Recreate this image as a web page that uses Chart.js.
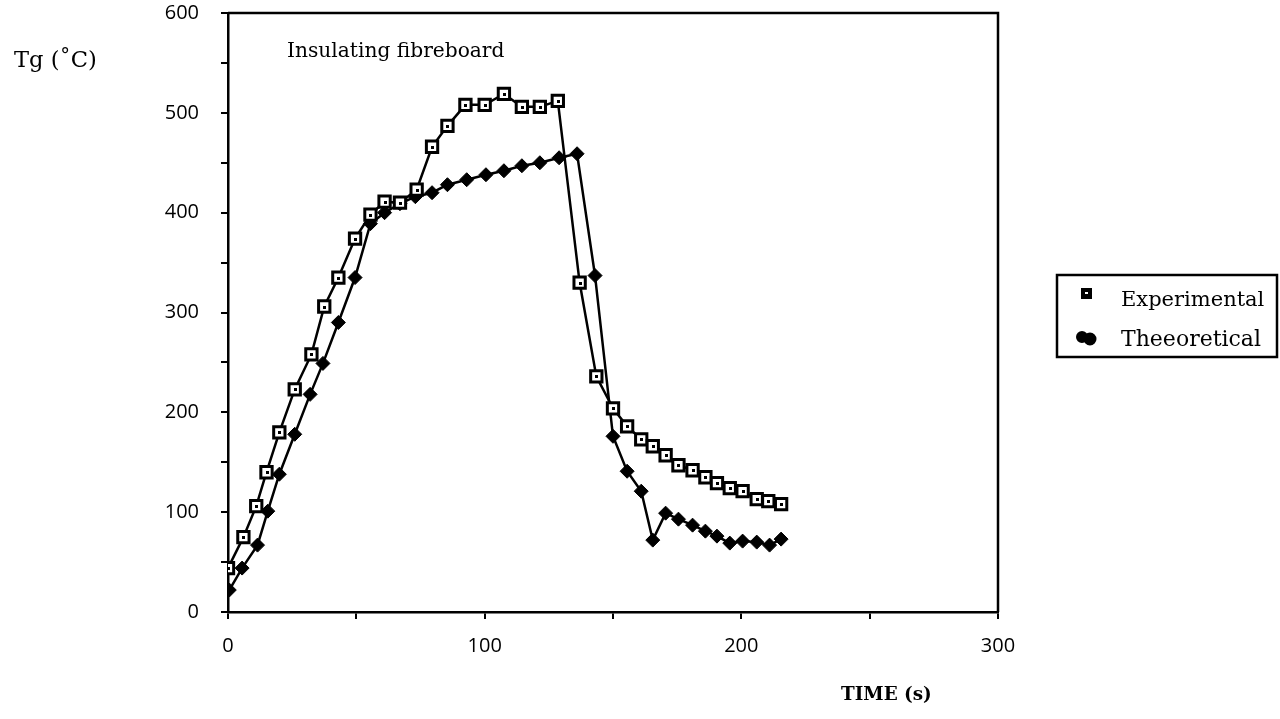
<!DOCTYPE html>
<html>
<head>
<meta charset="utf-8">
<script src="https://cdn.jsdelivr.net/npm/chart.js@4.4.1/dist/chart.umd.min.js"></script>
<style>
  html, body { margin: 0; padding: 0; background: #fff; }
  #wrap { width: 1280px; height: 719px; }
</style>
</head>
<body>
<div id="wrap"><canvas id="tgChart" width="1280" height="719"></canvas></div>
<script>
// gas temperature Tg against time, insulating fibreboard
const expTime = [0, 6, 11, 15, 20, 26, 32.5, 37.5, 43, 49.5, 55.5, 61, 67, 73.5, 79.5, 85.5, 92.5, 100, 107.5, 114.5, 121.5, 128.5,
                 137, 143.5, 150, 155.5, 161, 165.5, 170.5, 175.5, 181, 186, 190.5, 195.5, 200.5, 206, 210.5, 215.5];
const expTemp = [44, 75, 106, 140, 180, 223, 258, 306, 335, 374, 398, 411, 410, 423, 466, 487, 508, 508, 519, 506, 506, 512,
                 330, 236, 204, 186, 173, 166, 157, 147, 142, 135, 129, 124, 121, 113, 111, 108];

const theoTime = [0.5, 5.5, 11.5, 15.5, 20, 26, 32, 37, 43, 49.5, 55.5, 61, 67, 73, 79.5, 85.5, 93, 100.5, 107.5, 114.5, 121.5, 129, 136,
                  143, 150, 155.5, 161, 165.5, 170.5, 175.5, 181, 186, 190.5, 195.5, 200.5, 206, 211, 215.5];
const theoTemp = [22, 44, 67, 101, 138, 178, 218, 249, 290, 335, 389, 400, 409, 416, 420, 428, 433, 438, 442, 447, 450, 455, 459,
                  337, 176, 141, 121, 72, 99, 93, 87, 81, 76, 69, 71, 70, 67, 73];

const seriesNames = ['Experimental', 'Theeoretical'];
const xTickLabels = [0, 100, 200, 300];
const yTickLabels = [0, 100, 200, 300, 400, 500, 600];

const serif = '"DejaVu Serif", "Liberation Serif", serif';
const tickFont = '"Open Sans", "Liberation Sans", sans-serif';

function toPoints(xs, ys) {
    return xs.map((x, i) => ({ x: x, y: ys[i] }));
}

// write text from its left edge so that it spans the given width
function drawSpan(ctx, text, left, baseline, width, weight) {
    ctx.font = weight + ' 20px ' + serif;
    const size = 20 * width / ctx.measureText(text).width;
    ctx.font = weight + ' ' + size.toFixed(1) + 'px ' + serif;
    ctx.fillText(text, left, baseline);
}

// box round the plot, dots in the open squares, text and the legend
const decorations = {
    id: 'decorations',
    afterDatasetsDraw(chart) {
        const ctx = chart.ctx;
        const area = chart.chartArea;
        ctx.save();
        ctx.strokeStyle = '#000';
        ctx.lineWidth = 2.5;
        ctx.beginPath();
        ctx.moveTo(area.left, area.top);
        ctx.lineTo(area.right, area.top);
        ctx.lineTo(area.right, area.bottom);
        ctx.stroke();

        const meta = chart.getDatasetMeta(0);
        ctx.fillStyle = '#000';
        meta.data.forEach(pt => {
            ctx.fillRect(Math.round(pt.x) - 1, Math.round(pt.y) - 1, 3, 3);
        });

        ctx.fillStyle = '#000';
        ctx.textBaseline = 'alphabetic';
        ctx.textAlign = 'left';
        drawSpan(ctx, 'Insulating fibreboard', 287, 57, 218, 'normal');
        drawSpan(ctx, 'Tg (\u02DAC)', 14, 67, 83, 'normal');
        drawSpan(ctx, 'TIME (s)', 841, 700, 91, 'bold');

        // legend
        ctx.lineWidth = 2.5;
        ctx.strokeRect(1057, 275, 220, 82);
        drawSpan(ctx, seriesNames[0], 1121, 306, 143, 'normal');
        drawSpan(ctx, seriesNames[1], 1121, 346, 140, 'normal');
        ctx.fillRect(1081, 288, 11, 11);
        ctx.fillStyle = '#fff';
        ctx.fillRect(1085, 292, 3, 2);
        ctx.fillStyle = '#000';
        ctx.beginPath();
        ctx.arc(1082, 337, 6, 0, Math.PI * 2);
        ctx.arc(1090, 339, 6.5, 0, Math.PI * 2);
        ctx.fill();
        ctx.restore();
    }
};

const ctx = document.getElementById('tgChart').getContext('2d');
const tgChart = new Chart(ctx, {
    type: 'line',
    data: {
        datasets: [{
            label: seriesNames[0],
            data: toPoints(expTime, expTemp),
            borderColor: '#000',
            borderWidth: 2.5,
            backgroundColor: '#fff',
            pointStyle: 'rect',
            pointRadius: 8,
            pointBorderWidth: 3,
            pointBorderColor: '#000',
            pointBackgroundColor: '#fff',
            tension: 0,
            order: 1
        }, {
            label: seriesNames[1],
            data: toPoints(theoTime, theoTemp),
            borderColor: '#000',
            borderWidth: 2.5,
            backgroundColor: '#000',
            pointStyle: 'rectRot',
            pointRadius: 7,
            pointBorderWidth: 1,
            pointBorderColor: '#000',
            pointBackgroundColor: '#000',
            tension: 0,
            order: 2
        }]
    },
    options: {
        responsive: false,
        animation: false,
        layout: {
            padding: { left: 0, right: 282, top: 13, bottom: 0 }
        },
        plugins: {
            legend: { display: false },
            tooltip: { enabled: false }
        },
        scales: {
            x: {
                type: 'linear',
                min: 0,
                max: 300,
                afterFit: s => {
                    s.height = 107;
                    s.paddingLeft = 0;
                    s.paddingRight = 0;
                },
                border: { display: true, color: '#000', width: 2.5 },
                grid: {
                    drawOnChartArea: false,
                    color: '#000',
                    lineWidth: 2,
                    tickLength: 7
                },
                ticks: {
                    stepSize: 50,
                    padding: 15,
                    color: '#000',
                    maxRotation: 0,
                    font: { family: tickFont, size: 20 },
                    callback: v => xTickLabels.includes(v) ? String(v) : ''
                }
            },
            y: {
                min: 0,
                max: 600,
                afterFit: s => {
                    s.width = 228;
                    s.paddingTop = 0;
                    s.paddingBottom = 0;
                },
                border: { display: true, color: '#000', width: 2.5 },
                grid: {
                    drawOnChartArea: false,
                    color: '#000',
                    lineWidth: 2,
                    tickLength: 7
                },
                ticks: {
                    stepSize: 50,
                    padding: 22,
                    color: '#000',
                    font: { family: tickFont, size: 20 },
                    callback: v => yTickLabels.includes(v) ? String(v) : ''
                }
            }
        }
    },
    plugins: [decorations]
});
</script>
</body>
</html>
